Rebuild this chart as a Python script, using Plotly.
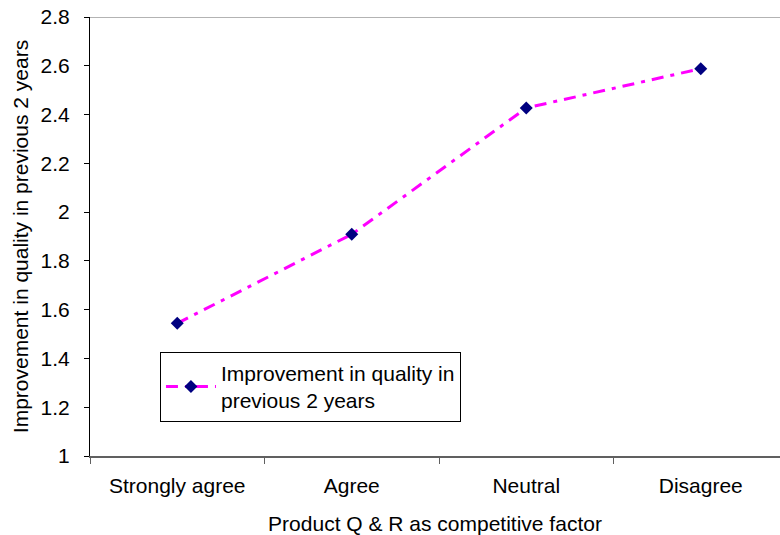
import plotly.graph_objects as go

categories = ["Strongly agree", "Agree", "Neutral", "Disagree"]
values = [1.544, 1.909, 2.427, 2.588]
series_name = "Improvement in quality in<br>previous 2 years"
y_ticks = [1.0, 1.2, 1.4, 1.6, 1.8, 2.0, 2.2, 2.4, 2.6, 2.8]
y_tick_labels = ["1", "1.2", "1.4", "1.6", "1.8", "2", "2.2", "2.4", "2.6", "2.8"]
x_title = "Product Q & R as competitive factor"
y_title = "Improvement in quality in previous 2 years"

FONT = "Liberation Sans, Arial, sans-serif"

fig = go.Figure()
fig.add_trace(go.Scatter(
    x=categories, y=values, name=series_name, mode="lines+markers",
    line=dict(color="#FF00FF", width=3, dash="12px,7px,4px,7px"),
    marker=dict(symbol="diamond", size=10, color="#000080", line=dict(width=0)),
))

fig.add_shape(type="line", xref="paper", yref="y", x0=0, x1=1, y0=2.8, y1=2.8,
              line=dict(color="#9a9a9a", width=1.5), layer="below")

fig.update_layout(
    width=780, height=535,
    margin=dict(l=90, r=0, t=16.5, b=78.5, autoexpand=False),
    paper_bgcolor="white", plot_bgcolor="white",
    font=dict(family=FONT, size=21, color="black"),
    showlegend=True,
    legend=dict(
        x=0.1014, y=0.2375, xanchor="left", yanchor="top",
        bgcolor="white", bordercolor="black", borderwidth=1,
        font=dict(family=FONT, size=21, color="black"),
        itemwidth=50, tracegroupgap=0,
    ),
    xaxis=dict(
        type="category", range=[-0.5, 3.454], tickson="boundaries",
        ticks="outside", ticklen=6, tickcolor="#606060", tickwidth=1,
        showline=True, linecolor="#606060", linewidth=2,
        showgrid=False, zeroline=False, automargin=False,
        ticklabelstandoff=10,
        title=dict(text=x_title, standoff=20, font=dict(family=FONT, size=21)),
        tickfont=dict(family=FONT, size=21),
    ),
    yaxis=dict(
        range=[1, 2.8], tickmode="array", tickvals=y_ticks, ticktext=y_tick_labels,
        ticks="outside", ticklen=5, tickcolor="black", tickwidth=1,
        showline=True, linecolor="black", linewidth=1,
        showgrid=False, zeroline=False, automargin=False,
        ticklabelstandoff=10,
        title=dict(text=y_title, standoff=6, font=dict(family=FONT, size=21)),
        tickfont=dict(family=FONT, size=21),
    ),
)

fig.write_html("out.html")
